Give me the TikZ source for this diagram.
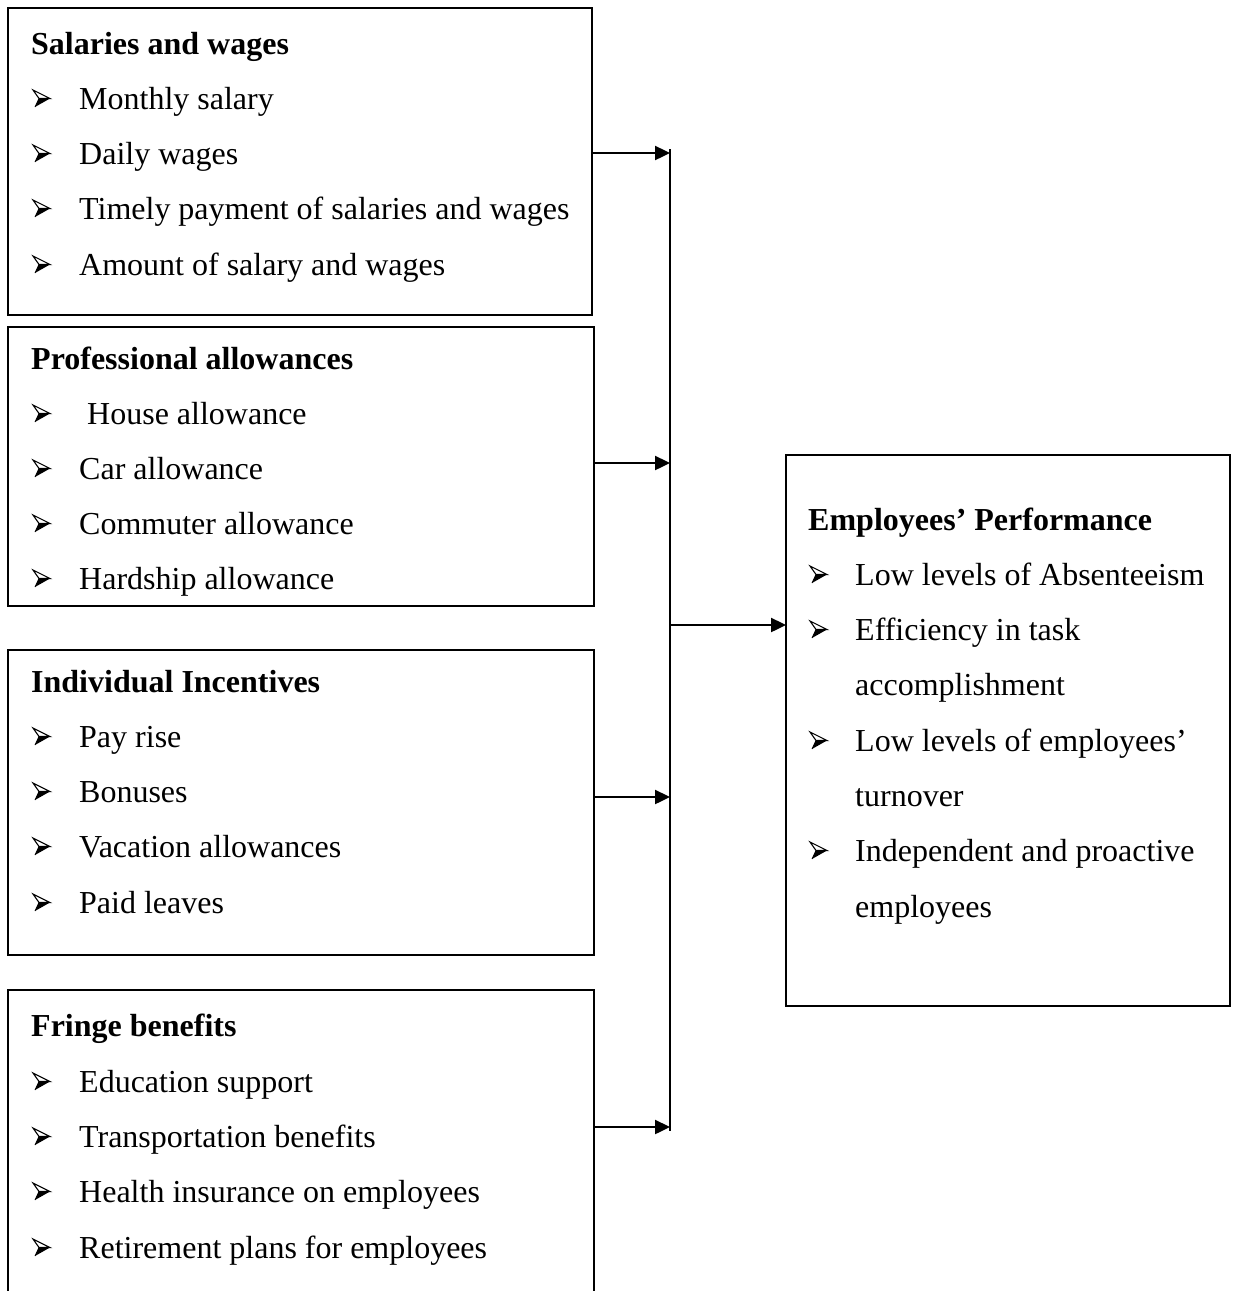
\documentclass[tikz,border=0pt]{standalone}
\usepackage{fontspec}
\setmainfont{Liberation Serif}
\usetikzlibrary{arrows.meta}
\begin{document}
\begin{tikzpicture}[x=1pt,y=-1pt,
  box/.style={draw,line width=2.4pt,inner sep=0pt,outer sep=0pt,anchor=north west},
  openbox/.style={inner sep=0pt,outer sep=0pt,anchor=north west},
  head/.style={anchor=base west,font=\fontsize{32}{38}\selectfont\bfseries,inner sep=0pt},
  item/.style={anchor=base west,font=\fontsize{32}{38}\selectfont,inner sep=0pt},
  line/.style={line width=2.4pt},
  conn/.style={line width=2.4pt,-{Triangle[length=15pt,width=14pt]}},
  bul/.pic={
    \draw[line width=1.1pt,line join=miter,fill=white] (0,-19) -- (17,-10.5) -- (6,-10.5) -- cycle;
    \fill[black] (6,-10.5) -- (17,-10.5) -- (2,-2) -- cycle;
    \draw[line width=0.8pt] (6,-10.5) -- (2,-2);}]
\fill[white] (0,0) rectangle (1237,1291);
\useasboundingbox (0,0) rectangle (1237,1291);

% boxes
\node[box,minimum width=584pt,minimum height=307pt] (b1) at (8,8) {};
\node[box,minimum width=586pt,minimum height=279pt] (b2) at (8,327) {};
\node[box,minimum width=586pt,minimum height=305pt] (b3) at (8,650) {};
\node[openbox,minimum width=586pt,minimum height=301pt] (b4) at (8,990) {};
\draw[line] (b4.south west) -- (b4.north west) -- (b4.north east) -- (b4.south east);
\node[box,minimum width=444pt,minimum height=551pt] (out) at (786,455) {};

% box 1
\node[head] (t1) at (31,54) {Salaries and wages};
\node[item] (i11) at (79,109) {Monthly salary};
\node[item] (i12) at (79,164) {Daily wages};
\node[item] (i13) at (79,219) {Timely payment of salaries and wages};
\node[item] (i14) at (79,275) {Amount of salary and wages};
\foreach \y in {109,164,219,275} \pic at (33,\y) {bul};

% box 2
\node[head] (t2) at (31,369) {Professional allowances};
\node[item] (i21) at (87,424) {House allowance};
\node[item] (i22) at (79,479) {Car allowance};
\node[item] (i23) at (79,534) {Commuter allowance};
\node[item] (i24) at (79,589) {Hardship allowance};
\foreach \y in {424,479,534,589} \pic at (33,\y) {bul};

% box 3
\node[head] (t3) at (31,692) {Individual Incentives};
\node[item] (i31) at (79,747) {Pay rise};
\node[item] (i32) at (79,802) {Bonuses};
\node[item] (i33) at (79,857) {Vacation allowances};
\node[item] (i34) at (79,913) {Paid leaves};
\foreach \y in {747,802,857,913} \pic at (33,\y) {bul};

% box 4
\node[head] (t4) at (31,1036) {Fringe benefits};
\node[item] (i41) at (79,1092) {Education support};
\node[item] (i42) at (79,1147) {Transportation benefits};
\node[item] (i43) at (79,1202) {Health insurance on employees};
\node[item] (i44) at (79,1258) {Retirement plans for employees};
\foreach \y in {1092,1147,1202,1258} \pic at (33,\y) {bul};

% outcome box
\node[head] (t5) at (808,530) {Employees’ Performance};
\node[item] (o1) at (855,585) {Low levels of Absenteeism};
\node[item] (o2) at (855,640) {Efficiency in task};
\node[item] (o2b) at (855,695) {accomplishment};
\node[item] (o3) at (855,751) {Low levels of employees’};
\node[item] (o3b) at (855,806) {turnover};
\node[item] (o4) at (855,861) {Independent and proactive};
\node[item] (o4b) at (855,917) {employees};
\foreach \y in {585,640,751,861} \pic at (810,\y) {bul};

% bus and connectors
\coordinate (j1) at (670,153);
\coordinate (j2) at (670,463);
\coordinate (j3) at (670,797);
\coordinate (j4) at (670,1127);
\coordinate (jt) at (670,149);
\coordinate (jb) at (670,1131);
\coordinate (jo) at (670,625);
\draw[line] (jt) -- (jb);
\draw[conn] (b1.east |- j1) -- (j1);
\draw[conn] (b2.east |- j2) -- (j2);
\draw[conn] (b3.east |- j3) -- (j3);
\draw[conn] (b4.east |- j4) -- (j4);
\draw[conn] (jo) -- (out.west |- jo);
\end{tikzpicture}
\end{document}
